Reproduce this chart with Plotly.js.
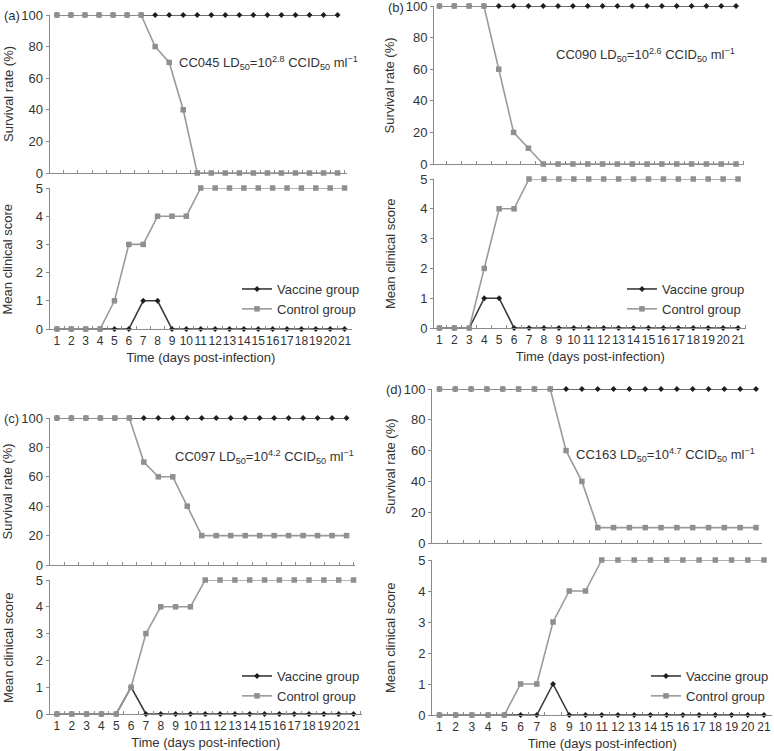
<!DOCTYPE html>
<html>
<head>
<meta charset="utf-8">
<script src="https://cdn.plot.ly/plotly-3.0.1.min.js"></script>
<style>html,body{margin:0;padding:0;background:#fff;}#chart{width:774px;height:751px;}</style>
</head>
<body>
<div id="chart"></div>
<script>
// ---------- data ----------
const days = [1,2,3,4,5,6,7,8,9,10,11,12,13,14,15,16,17,18,19,20,21];
const dayLabels = ['1','2','3','4','5','6','7','8','9','10','11','12','13','14','15','16','17','18','19','20','21'];
const survTicks = [0,20,40,60,80,100];
const scoreTicks = [0,1,2,3,4,5];

const aSurvVaccine = [100,100,100,100,100,100,100,100,100,100,100,100,100,100,100,100,100,100,100,100,100];
const aSurvControl = [100,100,100,100,100,100,100,80,70,40,0,0,0,0,0,0,0,0,0,0,0];
const aScoreVaccine = [0,0,0,0,0,0,1,1,0,0,0,0,0,0,0,0,0,0,0,0,0];
const aScoreControl = [0,0,0,0,1,3,3,4,4,4,5,5,5,5,5,5,5,5,5,5,5];

const bSurvVaccine = [100,100,100,100,100,100,100,100,100,100,100,100,100,100,100,100,100,100,100,100,100];
const bSurvControl = [100,100,100,100,60,20,10,0,0,0,0,0,0,0,0,0,0,0,0,0,0];
const bScoreVaccine = [0,0,0,1,1,0,0,0,0,0,0,0,0,0,0,0,0,0,0,0,0];
const bScoreControl = [0,0,0,2,4,4,5,5,5,5,5,5,5,5,5,5,5,5,5,5,5];

const cSurvVaccine = [100,100,100,100,100,100,100,100,100,100,100,100,100,100,100,100,100,100,100,100,100];
const cSurvControl = [100,100,100,100,100,100,70,60,60,40,20,20,20,20,20,20,20,20,20,20,20];
const cScoreVaccine = [0,0,0,0,0,1,0,0,0,0,0,0,0,0,0,0,0,0,0,0,0];
const cScoreControl = [0,0,0,0,0,1,3,4,4,4,5,5,5,5,5,5,5,5,5,5,5];

const dSurvVaccine = [100,100,100,100,100,100,100,100,100,100,100,100,100,100,100,100,100,100,100,100,100];
const dSurvControl = [100,100,100,100,100,100,100,100,60,40,10,10,10,10,10,10,10,10,10,10,10];
const dScoreVaccine = [0,0,0,0,0,0,0,1,0,0,0,0,0,0,0,0,0,0,0,0,0];
const dScoreControl = [0,0,0,0,0,1,1,3,4,4,5,5,5,5,5,5,5,5,5,5,5];

const panelLabels = ['(a)','(b)','(c)','(d)'];
const strainTexts = [
  'CC045 LD<sub>50</sub>=10<sup>2.8</sup> CCID<sub>50</sub> ml<sup>\u22121</sup>',
  'CC090 LD<sub>50</sub>=10<sup>2.6</sup> CCID<sub>50</sub> ml<sup>\u22121</sup>',
  'CC097 LD<sub>50</sub>=10<sup>4.2</sup> CCID<sub>50</sub> ml<sup>\u22121</sup>',
  'CC163 LD<sub>50</sub>=10<sup>4.7</sup> CCID<sub>50</sub> ml<sup>\u22121</sup>'
];
const seriesNames = ['Vaccine group','Control group'];
const survTitle = 'Survival rate (%)';
const scoreTitle = 'Mean clinical score';
const timeTitle = 'Time (days post-infection)';

// ---------- layout geometry (pixels) ----------
const W = 774, H = 751;
const FONT = '"Liberation Sans", Arial, Helvetica, sans-serif';
const AXC = '#8a8a8a';
const TXT = '#333333';
const VAC = '#1e1e1e';
const CTL = '#8f8f8f';

// per subplot: y-axis x, axis end x, day1 x, day21 x, top px, bottom px
const geo = [
  {x0:50, xe:347, x1:57, x21:338, yt:15, yb:173},   // a surv
  {x0:50, xe:352, x1:57, x21:345, yt:188, yb:329},  // a score
  {x0:435, xe:745, x1:440, x21:737, yt:6, yb:164},  // b surv
  {x0:435, xe:747, x1:440, x21:739, yt:179, yb:328},// b score
  {x0:50, xe:355, x1:57, x21:347, yt:418, yb:565},  // c surv
  {x0:50, xe:362, x1:57, x21:354, yt:580, yb:714},  // c score
  {x0:433, xe:763, x1:440, x21:757, yt:389, yb:543},// d surv
  {x0:433, xe:773, x1:440, x21:765, yt:560, yb:715} // d score
];
const legendPos = [
  {tx:277, ty:289}, {tx:662, ty:289}, {tx:277, ty:676}, {tx:687, ty:676}
];
const annPos = [
  {x:177, y:63}, {x:555, y:55}, {x:173, y:457}, {x:575, y:455}
];
const labelPos = [
  {x:2, y:15}, {x:386, y:8}, {x:2, y:418}, {x:384, y:389}
];
const ytitleX = [8, 391, 8, 391];

const panels = [
  [aSurvVaccine, aSurvControl, aScoreVaccine, aScoreControl],
  [bSurvVaccine, bSurvControl, bScoreVaccine, bScoreControl],
  [cSurvVaccine, cSurvControl, cScoreVaccine, cScoreControl],
  [dSurvVaccine, dSurvControl, dScoreVaccine, dScoreControl]
];

const traces = [];
const layout = {
  width: W, height: H,
  margin: {l:0, r:0, t:0, b:0},
  paper_bgcolor: '#fff', plot_bgcolor: 'rgba(0,0,0,0)',
  font: {family: FONT, size: 12, color: TXT},
  showlegend: true,
  annotations: [],
  hovermode: false
};

function xRange(g) {
  const s = (g.x21 - g.x1) / 20;
  const a = 1 - (g.x1 - g.x0) / s;
  const b = a + (g.xe - g.x0) / s;
  return [a, b];
}

panels.forEach((p, pi) => {
  for (let k = 0; k < 2; k++) {
    const idx = pi * 2 + k;            // 0..7
    const n = idx + 1;
    const xa = n === 1 ? 'x' : 'x' + n;
    const ya = n === 1 ? 'y' : 'y' + n;
    const g = geo[idx];
    const isScore = k === 1;
    const legendId = pi === 0 ? 'legend' : 'legend' + (pi + 1);
    const vac = isScore ? p[2] : p[0];
    const ctl = isScore ? p[3] : p[1];

    traces.push({
      x: days, y: vac, xaxis: xa, yaxis: ya, type: 'scatter', mode: 'lines+markers',
      name: seriesNames[0], legend: legendId, showlegend: isScore, cliponaxis: false,
      line: {color: '#3a3a3a', width: 1.6},
      marker: {symbol: 'diamond', size: 4.5, color: VAC}
    });
    traces.push({
      x: days, y: ctl, xaxis: xa, yaxis: ya, type: 'scatter', mode: 'lines+markers',
      name: seriesNames[1], legend: legendId, showlegend: isScore, cliponaxis: false,
      line: {color: '#9a9a9a', width: 1.6},
      marker: {symbol: 'square', size: 5.5, color: CTL}
    });

    const xkey = n === 1 ? 'xaxis' : 'xaxis' + n;
    const ykey = n === 1 ? 'yaxis' : 'yaxis' + n;
    layout[xkey] = {
      domain: [g.x0 / W, g.xe / W],
      range: xRange(g),
      anchor: ya,
      showgrid: false, zeroline: false,
      showline: true, linecolor: AXC, linewidth: 1.3,
      tickmode: 'array', tickvals: days, ticktext: dayLabels,
      ticks: '', showticklabels: isScore, tickangle: 0,
      ticklabeloverflow: 'allow',
      tickfont: {size: 12, color: TXT},
      minor: {tickmode: 'linear', tick0: 0.5, dtick: 1, ticks: 'inside', ticklen: 3, tickcolor: AXC, tickwidth: 1, showgrid: false},
      fixedrange: true
    };
    if (isScore) {
      layout[xkey].title = {text: timeTitle, font: {size: 13, color: TXT}, standoff: 6};
    }
    layout[ykey] = {
      domain: [1 - g.yb / H, 1 - g.yt / H],
      range: isScore ? [0, 5] : [0, 100],
      anchor: xa,
      showgrid: false, zeroline: false,
      showline: true, linecolor: AXC, linewidth: 1.3,
      tickmode: 'array', tickvals: isScore ? scoreTicks : survTicks,
      ticks: 'outside', ticklen: 3, tickcolor: AXC,
      ticklabeloverflow: 'allow',
      tickfont: {size: 13, color: TXT},
      fixedrange: true
    };
    // y axis titles as annotations for exact placement
    layout.annotations.push({
      text: isScore ? scoreTitle : survTitle,
      xref: 'paper', yref: 'paper',
      x: ytitleX[pi] / W, y: 1 - ((g.yt + g.yb) / 2) / H,
      xanchor: 'center', yanchor: 'middle', textangle: -90, showarrow: false,
      font: {size: 13, color: TXT}
    });
  }
  // legend
  const lid = pi === 0 ? 'legend' : 'legend' + (pi + 1);
  layout[lid] = {
    x: (legendPos[pi].tx - 40) / W, xanchor: 'left',
    y: 1 - (legendPos[pi].ty - 15) / H, yanchor: 'top',
    bgcolor: 'rgba(0,0,0,0)', borderwidth: 0,
    font: {size: 13, color: TXT},
    traceorder: 'normal', tracegroupgap: 0, itemwidth: 30
  };
  // strain annotation
  layout.annotations.push({
    text: strainTexts[pi], xref: 'paper', yref: 'paper',
    x: annPos[pi].x / W, y: 1 - annPos[pi].y / H,
    xanchor: 'left', yanchor: 'middle', showarrow: false,
    font: {size: 13, color: TXT}
  });
  // panel label
  layout.annotations.push({
    text: panelLabels[pi], xref: 'paper', yref: 'paper',
    x: labelPos[pi].x / W, y: 1 - labelPos[pi].y / H,
    xanchor: 'left', yanchor: 'middle', showarrow: false,
    font: {size: 13, color: TXT}
  });
});

Plotly.newPlot('chart', traces, layout, {staticPlot: true, displayModeBar: false});
</script>
</body>
</html>
